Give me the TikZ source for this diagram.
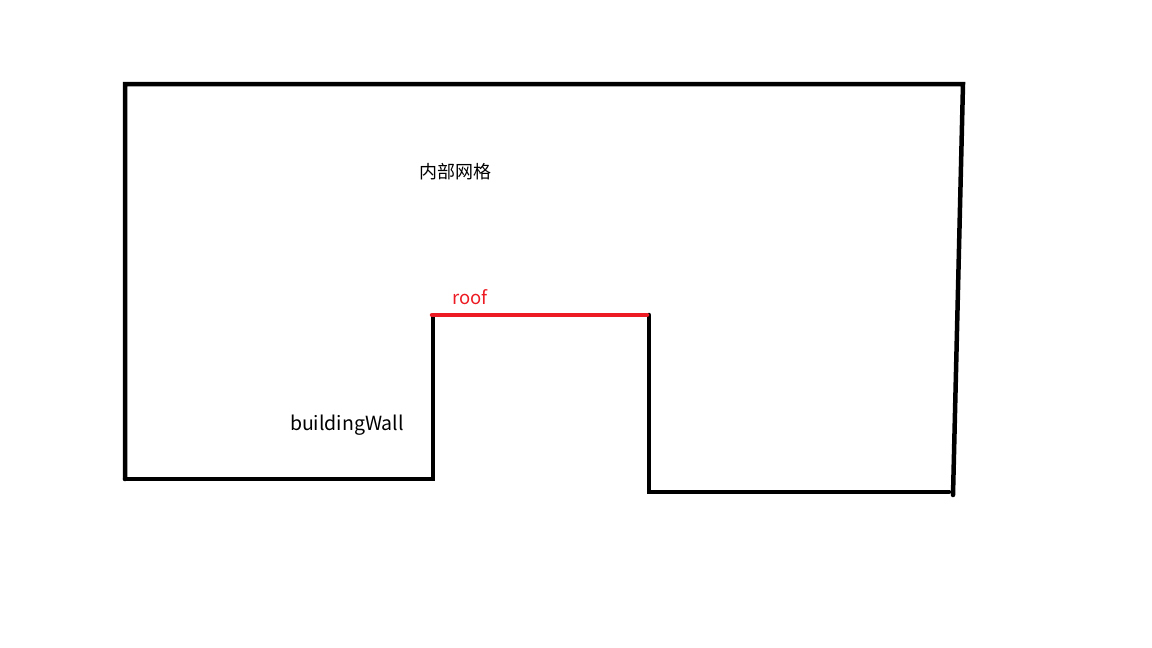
\documentclass[tikz,border=0pt]{standalone}
\usepackage{fontspec}
\newfontfamily\cjk{Noto Sans CJK SC}
\begin{document}
\begin{tikzpicture}[x=1pt,y=-1pt,
  wall/.style={line width=4.5pt,black,line cap=round,line join=miter},
  roofline/.style={line width=4.5pt,color={rgb,255:red,237;green,28;blue,36},line cap=round},
  lbl/.style={inner sep=0pt,font=\cjk\fontsize{18}{21}\selectfont}]
\useasboundingbox (0,0) rectangle (1152,648);
\draw[wall] (125,479) -- (125,84) -- (963,84) -- (953,495);
\draw[wall] (125,479) -- (433,479) -- (433,317);
\draw[wall] (649,315) -- (649,492) -- (949,492);
\draw[roofline] (432,315) -- (647,315);
\node[lbl] (grid) at (455,172) {内部网格};
\node[lbl,font=\cjk\fontsize{18.5}{21}\selectfont,color={rgb,255:red,237;green,28;blue,36}] (roof) at (470,297) {roof};
\node[lbl,font=\cjk\fontsize{19.5}{22}\selectfont] (wallLabel) at (347,425) {buildingWall};
\end{tikzpicture}
\end{document}
